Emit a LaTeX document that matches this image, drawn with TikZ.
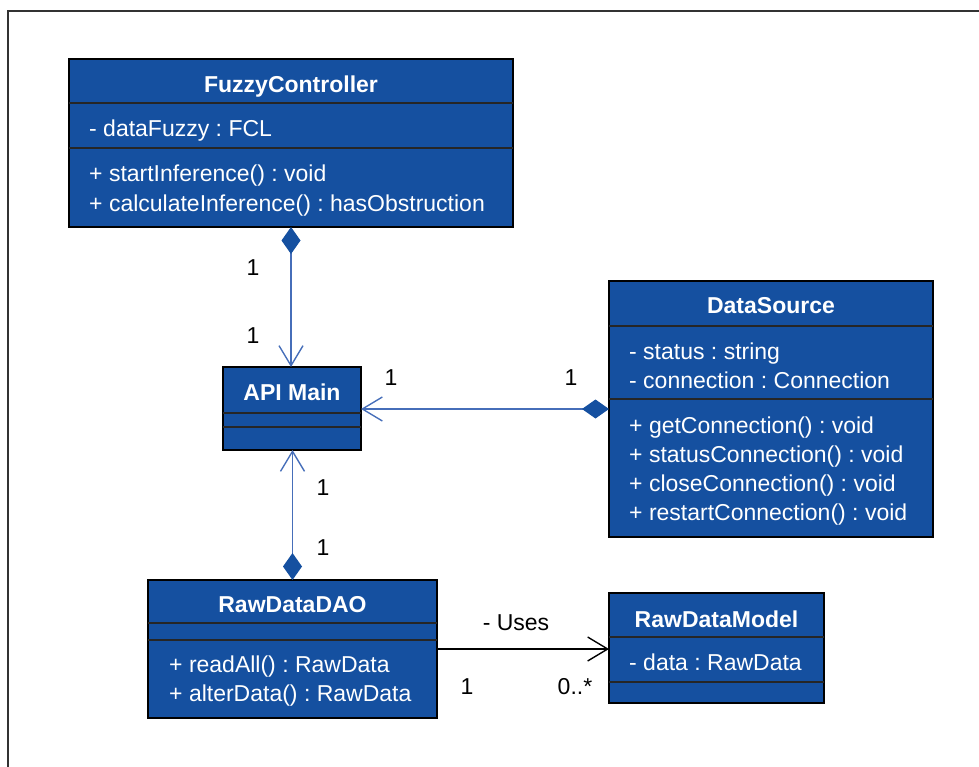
\documentclass[tikz,border=0pt]{standalone}
\usepackage{fontspec}
\setmainfont{Liberation Sans}
\usetikzlibrary{arrows.meta}
\frenchspacing

\definecolor{boxblue}{RGB}{21,80,160}
\definecolor{linkblue}{RGB}{70,110,185}
\definecolor{framegray}{RGB}{50,50,50}

\tikzset{
  classbox/.style={draw=black, line width=2pt, fill=boxblue, inner sep=0pt, outer sep=0pt},
  sepline/.style={draw=black!85, line width=1.6pt},
  classtitle/.style={anchor=base, inner sep=0pt, text=white, font=\fontsize{23}{28}\selectfont\bfseries},
  member/.style={anchor=base west, inner sep=0pt, text=white, font=\fontsize{23}{28}\selectfont},
  mult/.style={anchor=base, inner sep=0pt, text=black, font=\fontsize{23}{28}\selectfont},
  conn/.style={draw=linkblue, line width=1.4pt},
  usesline/.style={draw=black, line width=1.4pt},
  comp/.style={{Diamond[length=27pt,width=19pt,fill=boxblue,color=boxblue]}-{Straight Barb[length=20pt,width=24pt,color=linkblue]}},
  dep/.style={-{Straight Barb[length=20pt,width=24pt]}}
}

\begin{document}
\begin{tikzpicture}[x=1pt,y=-1pt]
\useasboundingbox (0,0) rectangle (979,767);

% page frame
\draw[framegray, line width=1.5pt] (8,767) -- (8,11) -- (979,11);

% ---------- FuzzyController ----------
\node[classbox, minimum width=444pt, minimum height=168pt] (fc) at (291,143) {};
\draw[sepline] (69,103) -- (513,103);
\draw[sepline] (69,148) -- (513,148);
\node[classtitle] (fc-t) at (291,93) {FuzzyController};
\node[member] (fc-a1) at (89,137) {- dataFuzzy : FCL};
\node[member] (fc-m1) at (89,182) {+ startInference() : void};
\node[member] (fc-m2) at (89,212) {+ calculateInference() : hasObstruction};

% ---------- API Main ----------
\node[classbox, minimum width=138pt, minimum height=83pt] (api) at (292,408.5) {};
\draw[sepline] (223,413) -- (361,413);
\draw[sepline] (223,427) -- (361,427);
\node[classtitle] (api-t) at (292,400) {API Main};

% ---------- DataSource ----------
\node[classbox, minimum width=324pt, minimum height=256pt] (ds) at (771,409) {};
\draw[sepline] (609,326) -- (933,326);
\draw[sepline] (609,399) -- (933,399);
\node[classtitle] (ds-t) at (771,313) {DataSource};
\node[member] (ds-a1) at (629,359) {- status : string};
\node[member] (ds-a2) at (629,388) {- connection : Connection};
\node[member] (ds-m1) at (629,433) {+ getConnection() : void};
\node[member] (ds-m2) at (629,462) {+ statusConnection() : void};
\node[member] (ds-m3) at (629,491) {+ closeConnection() : void};
\node[member] (ds-m4) at (629,520) {+ restartConnection() : void};

% ---------- RawDataDAO ----------
\node[classbox, minimum width=289pt, minimum height=138pt] (dao) at (292.5,649) {};
\draw[sepline] (148,623) -- (437,623);
\draw[sepline] (148,640) -- (437,640);
\node[classtitle] (dao-t) at (292.5,612) {RawDataDAO};
\node[member] (dao-m1) at (169,672) {+ readAll() : RawData};
\node[member] (dao-m2) at (169,701) {+ alterData() : RawData};

% ---------- RawDataModel ----------
\node[classbox, minimum width=215pt, minimum height=110pt] (rdm) at (716.5,648) {};
\draw[sepline] (609,637) -- (824,637);
\draw[sepline] (609,682) -- (824,682);
\node[classtitle] (rdm-t) at (716.5,627) {RawDataModel};
\node[member] (rdm-a1) at (629,670) {- data : RawData};

% ---------- associations ----------
\draw[conn, comp] (fc.south) -- (fc.south |- api.north);
\draw[conn, comp] (ds.west) -- (ds.west -| api.east);
\draw[conn, comp] (dao.north) -- (dao.north |- api.south);
\draw[usesline, dep] (dao.east) -- (dao.east -| rdm.west);

% ---------- multiplicities and labels ----------
\node[mult] (m-fc1) at (253,275) {1};
\node[mult] (m-fc2) at (253,343) {1};
\node[mult] (m-ds1) at (391,385) {1};
\node[mult] (m-ds2) at (571,385) {1};
\node[mult] (m-dao1) at (323,495) {1};
\node[mult] (m-dao2) at (323,555) {1};
\node[mult] (uses) at (516,630) {- Uses};
\node[mult] (m-u1) at (467,694) {1};
\node[mult] (m-u2) at (575,694) {0..*};
\end{tikzpicture}
\end{document}
